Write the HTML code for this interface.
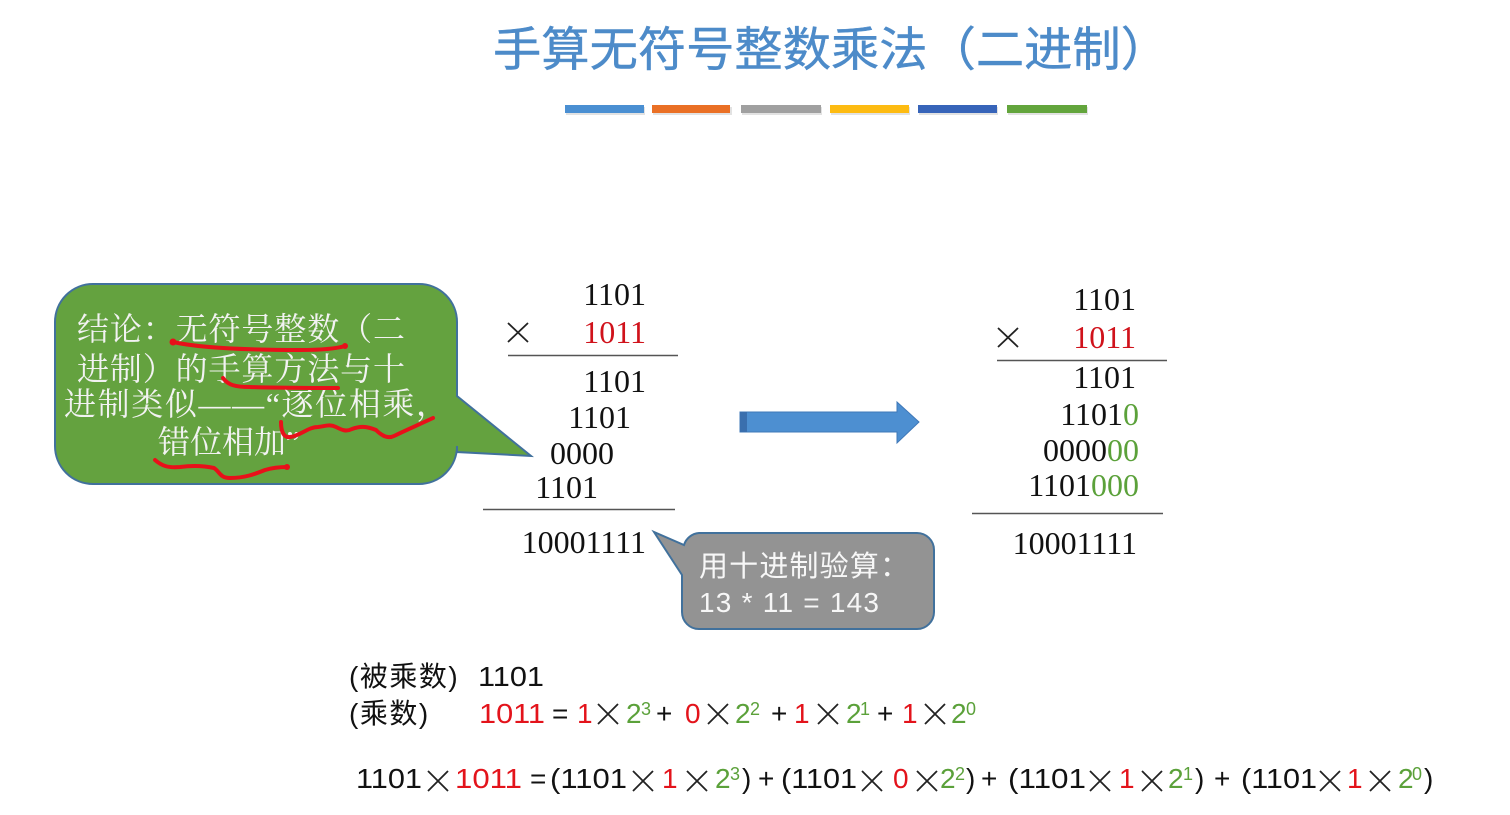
<!DOCTYPE html>
<html>
<head>
<meta charset="utf-8">
<style>
html,body{margin:0;padding:0;background:#fff;}
svg{display:block;}
.t{font-family:"Liberation Serif","Noto Serif CJK SC",serif;font-size:32px;fill:#111;}
.f{font-family:"Liberation Sans","Noto Sans CJK SC",sans-serif;font-size:28px;fill:#111;}
.s{font-family:"Liberation Sans",sans-serif;font-size:18px;}
.r{fill:#e3131b;}
.g{fill:#5ba13a;}
</style>
</head>
<body>
<svg width="1510" height="815" viewBox="0 0 1510 815" xmlns="http://www.w3.org/2000/svg">
<rect width="1510" height="815" fill="#fff"/>

<!-- Title -->
<text x="493" y="66" font-family="'Liberation Sans','Noto Sans CJK SC',sans-serif" font-size="47" fill="#4d8bc9" stroke="#4d8bc9" stroke-width="0.45" textLength="676" lengthAdjust="spacingAndGlyphs">手算无符号整数乘法（二进制）</text>

<!-- color bars -->
<g>
<rect x="566" y="107" width="79" height="8" fill="#cfcfcf" opacity="0.6"/>
<rect x="653" y="107" width="79" height="8" fill="#cfcfcf" opacity="0.6"/>
<rect x="742" y="107" width="80" height="8" fill="#cfcfcf" opacity="0.6"/>
<rect x="831" y="107" width="79" height="8" fill="#cfcfcf" opacity="0.6"/>
<rect x="919" y="107" width="79" height="8" fill="#cfcfcf" opacity="0.6"/>
<rect x="1008" y="107" width="80" height="8" fill="#cfcfcf" opacity="0.6"/>
<rect x="565" y="105" width="79" height="8" fill="#4a8fd2"/>
<rect x="652" y="105" width="78" height="8" fill="#ea7025"/>
<rect x="741" y="105" width="80" height="8" fill="#a0a0a0"/>
<rect x="830" y="105" width="79" height="8" fill="#fdbb12"/>
<rect x="918" y="105" width="79" height="8" fill="#3764b9"/>
<rect x="1007" y="105" width="80" height="8" fill="#63a53c"/>
</g>

<!-- Green callout -->
<path d="M93,284 H419 A38,38 0 0 1 457,322 V396 L531,456 L457,452 V446 A38,38 0 0 1 419,484 H93 A38,38 0 0 1 55,446 V322 A38,38 0 0 1 93,284 Z" fill="#64a23f" stroke="#41719c" stroke-width="2"/>
<g font-family="'Liberation Serif','Noto Serif CJK SC',serif" font-size="32" fill="#f2f2f2">
<text x="77" y="340" textLength="328" lengthAdjust="spacing">结论：无符号整数（二</text>
<text x="77" y="380" textLength="328" lengthAdjust="spacing">进制）的手算方法与十</text>
<text x="64" y="415" textLength="384" lengthAdjust="spacing">进制类似——“逐位相乘，</text>
<text x="158" y="453">错位相加”</text>
</g>
<!-- red scribbles -->
<g fill="none" stroke="#e8101a" stroke-width="4" stroke-linecap="round" stroke-linejoin="round">
<path d="M173,342 C200,348 250,350 300,350 C320,350 335,349 345,346"/>
<path d="M223,378 C228,385 235,387 250,387 C280,388 315,388 338,388"/>
<path d="M281,422 C281,432 284,438 290,437 C300,436 308,427 318,427 C326,426 330,424 336,427 C342,430 346,432 352,429 C360,426 366,426 376,430 C382,436 388,439 394,436 C402,432 418,425 433,418"/>
<path d="M155,460 C162,466 168,468 180,467 C195,465 205,466 214,468 C220,472 220,478 230,478 C245,478 255,474 265,470 C275,467 282,467 287,467"/>
</g>
<circle cx="173" cy="342" r="3.5" fill="#e8101a"/>
<circle cx="345" cy="346" r="3" fill="#e8101a"/>
<circle cx="287" cy="467" r="3" fill="#e8101a"/>

<!-- Left calculation -->
<text class="t" x="646" y="305" text-anchor="end">1101</text>
<path d="M508,323 L528,342 M508,342 L528,323" stroke="#222" stroke-width="1.8"/>
<text class="t" x="646" y="343" text-anchor="end" style="fill:#d0121b">1011</text>
<line x1="508" y1="355.5" x2="678" y2="355.5" stroke="#555" stroke-width="1.5"/>
<text class="t" x="646" y="392" text-anchor="end">1101</text>
<text class="t" x="631" y="428" text-anchor="end">1101</text>
<text class="t" x="614" y="464" text-anchor="end">0000</text>
<text class="t" x="598" y="498" text-anchor="end">1101</text>
<line x1="483" y1="509.5" x2="675" y2="509.5" stroke="#555" stroke-width="1.5"/>
<text class="t" x="646" y="553" text-anchor="end">10001111</text>

<!-- Blue arrow -->
<path d="M740,412 H897 V402 L919,422 L897,443 V432 H740 Z" fill="#4d8fd1" stroke="#3f78b8" stroke-width="1"/>
<rect x="740" y="412" width="7" height="20" fill="#3a6fae"/>

<!-- Gray callout -->
<path d="M699,533 H917 A17,17 0 0 1 934,550 V612 A17,17 0 0 1 917,629 H699 A17,17 0 0 1 682,612 V575 L654,532 L684,545 A17,17 0 0 1 699,533 Z" fill="#939393" stroke="#41719c" stroke-width="2"/>
<text x="699" y="576" font-family="'Liberation Sans','Noto Sans CJK SC',sans-serif" font-size="29" fill="#f7f7f7" textLength="210" lengthAdjust="spacing">用十进制验算：</text>
<text x="699" y="612" font-family="'Liberation Sans',sans-serif" font-size="28" fill="#f7f7f7" textLength="180" lengthAdjust="spacing">13 * 11 = 143</text>

<!-- Right calculation -->
<text class="t" x="1136" y="310" text-anchor="end">1101</text>
<path d="M998,328 L1018,347 M998,347 L1018,328" stroke="#222" stroke-width="1.8"/>
<text class="t" x="1136" y="348" text-anchor="end" style="fill:#d0121b">1011</text>
<line x1="997" y1="360.5" x2="1167" y2="360.5" stroke="#555" stroke-width="1.5"/>
<text class="t" x="1136" y="388" text-anchor="end">1101</text>
<text class="t" x="1139" y="425" text-anchor="end">1101<tspan class="g">0</tspan></text>
<text class="t" x="1139" y="461" text-anchor="end">0000<tspan class="g">00</tspan></text>
<text class="t" x="1139" y="496" text-anchor="end">1101<tspan class="g">000</tspan></text>
<line x1="972" y1="513.5" x2="1163" y2="513.5" stroke="#555" stroke-width="1.5"/>
<text class="t" x="1137" y="554" text-anchor="end">10001111</text>

<!-- Bottom formulas -->
<text class="f" x="349" y="686" letter-spacing="1.5">(被乘数)</text>
<text class="f" x="478" y="686" textLength="66" lengthAdjust="spacingAndGlyphs">1101</text>

<text class="f" x="349" y="723" letter-spacing="1.5">(乘数)</text>
<text class="f r" x="479" y="723" textLength="66" lengthAdjust="spacingAndGlyphs">1011</text>
<text class="f" x="552" y="723">=</text>
<text class="f r" x="577" y="723">1</text>
<text class="f g" x="626" y="723">2</text><text class="s g" x="641" y="715">3</text>
<text class="f" x="656" y="723">+</text>
<text class="f r" x="685" y="723">0</text>
<text class="f g" x="735" y="723">2</text><text class="s g" x="750" y="715">2</text>
<text class="f" x="771" y="723">+</text>
<text class="f r" x="794" y="723">1</text>
<text class="f g" x="846" y="723">2</text><text class="s g" x="860" y="715">1</text>
<text class="f" x="877" y="723">+</text>
<text class="f r" x="902" y="723">1</text>
<text class="f g" x="951" y="723">2</text><text class="s g" x="966" y="715">0</text>
<g stroke="#222" stroke-width="1.8">
<path d="M598,704 L618,724 M598,724 L618,704"/>
<path d="M708,704 L728,724 M708,724 L728,704"/>
<path d="M818,704 L838,724 M818,724 L838,704"/>
<path d="M925,704 L945,724 M925,724 L945,704"/>
</g>

<text class="f" x="356" y="788" textLength="66" lengthAdjust="spacingAndGlyphs">1101</text>
<text class="f r" x="455" y="788" textLength="67" lengthAdjust="spacingAndGlyphs">1011</text>
<text class="f" x="530" y="788">=</text>
<text class="f" x="550" y="788" textLength="77" lengthAdjust="spacingAndGlyphs">(1101</text>
<text class="f r" x="662" y="788">1</text>
<text class="f g" x="715" y="788">2</text><text class="s g" x="730" y="780">3</text>
<text class="f" x="742" y="788">)</text>
<text class="f" x="758" y="788">+</text>
<text class="f" x="781" y="788" textLength="76" lengthAdjust="spacingAndGlyphs">(1101</text>
<text class="f r" x="893" y="788">0</text>
<text class="f g" x="940" y="788">2</text><text class="s g" x="955" y="780">2</text>
<text class="f" x="966" y="788">)</text>
<text class="f" x="981" y="788">+</text>
<text class="f" x="1008" y="788" textLength="78" lengthAdjust="spacingAndGlyphs">(1101</text>
<text class="f r" x="1119" y="788">1</text>
<text class="f g" x="1168" y="788">2</text><text class="s g" x="1183" y="780">1</text>
<text class="f" x="1195" y="788">)</text>
<text class="f" x="1214" y="788">+</text>
<text class="f" x="1241" y="788" textLength="76" lengthAdjust="spacingAndGlyphs">(1101</text>
<text class="f r" x="1347" y="788">1</text>
<text class="f g" x="1398" y="788">2</text><text class="s g" x="1412" y="780">0</text>
<text class="f" x="1424" y="788">)</text>
<g stroke="#222" stroke-width="1.8">
<path d="M428,771 L448,791 M428,791 L448,771"/>
<path d="M633,771 L653,791 M633,791 L653,771"/>
<path d="M687,771 L707,791 M687,791 L707,771"/>
<path d="M862,771 L882,791 M862,791 L882,771"/>
<path d="M917,771 L937,791 M917,791 L937,771"/>
<path d="M1090,771 L1110,791 M1090,791 L1110,771"/>
<path d="M1142,771 L1162,791 M1142,791 L1162,771"/>
<path d="M1320,771 L1340,791 M1320,791 L1340,771"/>
<path d="M1370,771 L1390,791 M1370,791 L1390,771"/>
</g>
</svg>
</body>
</html>
